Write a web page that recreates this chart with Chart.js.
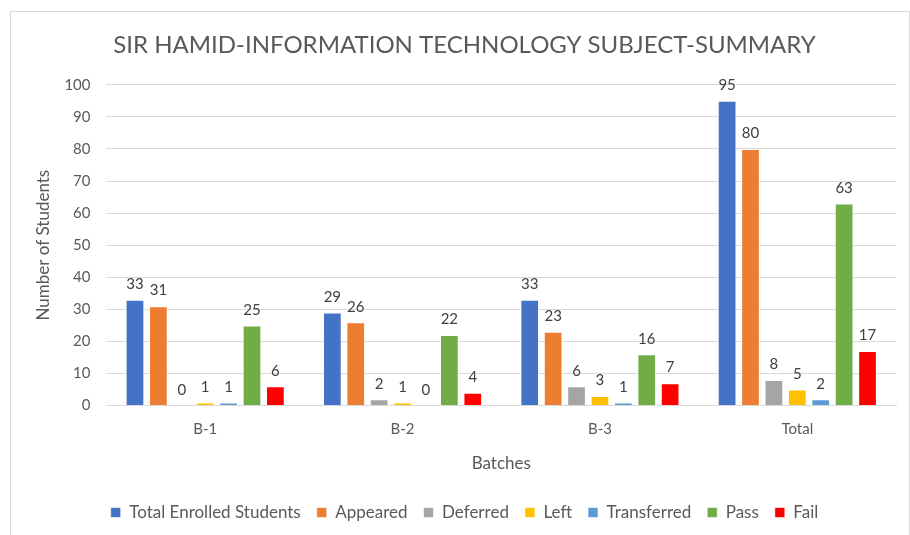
<!DOCTYPE html>
<html>
<head>
<meta charset="utf-8">
<script src="https://cdn.jsdelivr.net/npm/chart.js@4"></script>
<style>
  html, body { margin: 0; padding: 0; background: #fff; }
  #frame { position: absolute; left: 10px; top: 11px; width: 900px; height: 530px; border: 1px solid #d9d9d9; box-sizing: border-box; }
  #wrap { position: absolute; left: 0; top: 0; width: 910px; height: 535px; }
</style>
</head>
<body>
<div id="frame"></div>
<div id="wrap"><canvas id="chart"></canvas></div>
<script>
// batches on the x axis
const batches = ['B-1', 'B-2', 'B-3', 'Total'];

// one array per series
const enrolled = [33, 29, 33, 95];
const appeared = [31, 26, 23, 80];
const deferred = [0, 2, 6, 8];
const left = [1, 1, 3, 5];
const transferred = [1, 0, 1, 2];
const pass = [25, 22, 16, 63];
const fail = [6, 4, 7, 17];

const yTicks = [0, 10, 20, 30, 40, 50, 60, 70, 80, 90, 100];

const textColor = '#595959';
const fontFamily = 'Lato, "Open Sans", sans-serif';

// draws the value above each bar
const valueLabels = {
    id: 'valueLabels',
    afterDatasetsDraw(chart) {
        const ctx = chart.ctx;
        ctx.save();
        ctx.font = '15px ' + fontFamily;
        ctx.fillStyle = '#404040';
        ctx.textAlign = 'center';
        ctx.textBaseline = 'bottom';
        chart.data.datasets.forEach((ds, i) => {
            const meta = chart.getDatasetMeta(i);
            meta.data.forEach((bar, j) => {
                ctx.fillText(ds.data[j], bar.x, bar.y - 8);
            });
        });
        ctx.restore();
    }
};

function series(label, data, color) {
    return {
        label: label,
        data: data,
        backgroundColor: color,
        borderColor: 'rgba(255,255,255,0.6)',
        borderWidth: 1,
        categoryPercentage: 0.83,
        barPercentage: 0.8
    };
}

new Chart(document.getElementById('chart'), {
    type: 'bar',
    data: {
        labels: batches,
        datasets: [
            series('Total Enrolled Students', enrolled, '#4472c4'),
            series('Appeared', appeared, '#ed7d31'),
            series('Deferred', deferred, '#a5a5a5'),
            series('Left', left, '#ffc000'),
            series('Transferred', transferred, '#5b9bd5'),
            series('Pass', pass, '#70ad47'),
            series('Fail', fail, '#ff0000')
        ]
    },
    options: {
        responsive: true,
        maintainAspectRatio: false,
        animation: false,
        layout: { padding: { left: 33, right: 14, top: 31, bottom: 4 } },
        plugins: {
            title: {
                display: true,
                text: 'SIR HAMID-INFORMATION TECHNOLOGY SUBJECT-SUMMARY',
                color: textColor,
                font: { family: fontFamily, size: 24, weight: 'normal' },
                padding: { top: 0, bottom: 25 }
            },
            legend: {
                position: 'bottom',
                labels: {
                    color: textColor,
                    font: { family: fontFamily, size: 17 },
                    boxWidth: 10,
                    boxHeight: 10,
                    padding: 16
                }
            },
            tooltip: { enabled: false }
        },
        scales: {
            x: {
                grid: { display: false, drawTicks: false },
                border: { color: '#d9d9d9' },
                ticks: { color: textColor, font: { family: fontFamily, size: 15 }, padding: 15 },
                title: {
                    display: true,
                    text: 'Batches',
                    color: textColor,
                    font: { family: fontFamily, size: 17 },
                    padding: { top: 0, bottom: 14 }
                }
            },
            y: {
                min: 0,
                max: 100,
                afterBuildTicks(axis) { axis.ticks = yTicks.map(v => ({ value: v })); },
                grid: { color: '#d9d9d9', drawTicks: false },
                border: { display: false },
                ticks: { color: textColor, font: { family: fontFamily, size: 15 }, padding: 16 },
                title: {
                    display: true,
                    text: 'Number of Students',
                    color: textColor,
                    font: { family: fontFamily, size: 17 },
                    padding: { top: 0, bottom: -5 }
                }
            }
        }
    },
    plugins: [valueLabels]
});
</script>
</body>
</html>
